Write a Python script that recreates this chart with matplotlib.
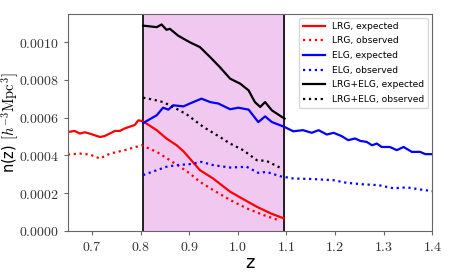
import matplotlib
matplotlib.use("Agg")
import matplotlib.pyplot as plt
from matplotlib.ticker import FuncFormatter

plt.rcParams["mathtext.fontset"] = "cm"

# LRG, expected
z_lrg_exp = [0.65, 0.664, 0.675, 0.685, 0.695, 0.716, 0.726, 0.747, 0.757, 0.767, 0.788, 0.795, 0.802,
             0.812, 0.833, 0.853, 0.874, 0.888, 0.901, 0.922, 0.949, 0.984, 1.008, 1.039, 1.067, 1.094]
n_lrg_exp = [5.24, 5.30, 5.16, 5.23, 5.16, 4.98, 5.03, 5.30, 5.30, 5.43, 5.62, 5.86, 5.83,
             5.69, 5.34, 4.90, 4.54, 4.22, 3.84, 3.22, 2.78, 2.08, 1.73, 1.28, 0.94, 0.67]

# LRG, observed
z_lrg_obs = [0.65, 0.675, 0.695, 0.716, 0.737, 0.767, 0.802, 0.833, 0.86, 0.881, 0.901, 0.922,
             0.949, 0.984, 1.018, 1.052, 1.087]
n_lrg_obs = [4.05, 4.10, 4.05, 3.84, 4.10, 4.28, 4.54, 4.19, 3.75, 3.40, 3.05, 2.60,
             2.17, 1.64, 1.20, 0.85, 0.54]

# ELG, expected
z_elg_exp = [0.805, 0.833, 0.846, 0.857, 0.867, 0.888, 0.901, 0.925, 0.943, 0.96, 0.984, 1.001,
             1.022, 1.042, 1.056, 1.07, 1.096, 1.114, 1.134, 1.152, 1.166, 1.183, 1.197, 1.214,
             1.227, 1.241, 1.252, 1.265, 1.276, 1.286, 1.296, 1.313, 1.327, 1.341, 1.358, 1.375,
             1.386, 1.4]
n_elg_exp = [5.72, 6.13, 6.53, 6.43, 6.66, 6.60, 6.75, 7.01, 6.83, 6.75, 6.45, 6.53,
             6.43, 5.77, 6.07, 5.77, 5.51, 5.28, 5.34, 5.20, 5.34, 5.11, 5.20, 5.02,
             4.81, 4.90, 4.77, 4.72, 4.54, 4.63, 4.45, 4.45, 4.28, 4.45, 4.19, 4.19,
             4.07, 4.07]

# ELG, observed
z_elg_obs = [0.805, 0.833, 0.853, 0.874, 0.901, 0.925, 0.949, 0.984, 1.018, 1.042, 1.059, 1.087,
             1.114, 1.155, 1.197, 1.224, 1.258, 1.289, 1.32, 1.348, 1.375, 1.4]
n_elg_obs = [2.96, 3.22, 3.40, 3.49, 3.54, 3.66, 3.49, 3.36, 3.40, 3.08, 3.13, 2.90,
             2.78, 2.75, 2.69, 2.55, 2.47, 2.43, 2.26, 2.31, 2.20, 2.11]

# LRG+ELG, expected
z_all_exp = [0.805, 0.833, 0.843, 0.853, 0.86, 0.877, 0.901, 0.922, 0.943, 0.963, 0.984, 1.005,
             1.022, 1.035, 1.046, 1.056, 1.07, 1.096]
n_all_exp = [10.88, 10.80, 10.94, 10.66, 10.71, 10.35, 10.00, 9.74, 9.21, 8.68, 8.07, 7.80,
             7.45, 6.83, 6.57, 6.83, 6.39, 5.95]

# LRG+ELG, observed
z_all_obs = [0.805, 0.826, 0.846, 0.867, 0.895, 0.929, 0.963, 0.984, 1.011, 1.039, 1.059, 1.09]
n_all_obs = [7.06, 6.96, 6.83, 6.57, 6.17, 5.51, 4.98, 4.63, 4.28, 3.75, 3.71, 3.31]

z_lo, z_hi = 0.804, 1.094
xticks = [0.7, 0.8, 0.9, 1.0, 1.1, 1.2, 1.3, 1.4]
yticks = [0.0, 0.0002, 0.0004, 0.0006, 0.0008, 0.0010]

sc = 1e-4

fig = plt.figure(figsize=(4.55, 2.73), dpi=100)
ax = fig.add_axes([0.149, 0.154, 0.801, 0.795])

ax.axvspan(z_lo, z_hi, color="#f0c8f0", zorder=0)
ax.axvline(z_lo, color="k", lw=1.2)
ax.axvline(z_hi, color="k", lw=1.2)

lw = 1.6
ax.plot(z_lrg_exp, [v * sc for v in n_lrg_exp], "r-", lw=lw, label="LRG, expected")
ax.plot(z_lrg_obs, [v * sc for v in n_lrg_obs], "r:", lw=lw, label="LRG, observed")
ax.plot(z_elg_exp, [v * sc for v in n_elg_exp], "b-", lw=lw, label="ELG, expected")
ax.plot(z_elg_obs, [v * sc for v in n_elg_obs], "b:", lw=lw, label="ELG, observed")
ax.plot(z_all_exp, [v * sc for v in n_all_exp], "k-", lw=lw, label="LRG+ELG, expected")
ax.plot(z_all_obs, [v * sc for v in n_all_obs], "k:", lw=lw, label="LRG+ELG, observed")

ax.set_xlim(0.65, 1.4)
ax.set_ylim(0, 0.00115)
ax.set_xticks(xticks)
ax.set_yticks(yticks)
ax.xaxis.set_major_formatter(FuncFormatter(lambda v, p: "$%.1f$" % v))
ax.yaxis.set_major_formatter(FuncFormatter(lambda v, p: "$%.4f$" % v))
ax.tick_params(labelsize=10, length=3, color="#666666", labelcolor="#333333")
for s in ax.spines.values():
    s.set_color("#666666")

ax.set_xlabel("z", fontsize=13, labelpad=0)
ax.set_ylabel(r"n(z) $[h^{-3}\mathrm{Mpc}^3]$", fontsize=10.5)
ax.yaxis.set_label_coords(-0.128, 0.5)

ax.legend(loc="upper right", fontsize=6.6, handlelength=2.4, labelspacing=0.62,
          borderaxespad=0.45)

fig.savefig("out.png", dpi=100)
